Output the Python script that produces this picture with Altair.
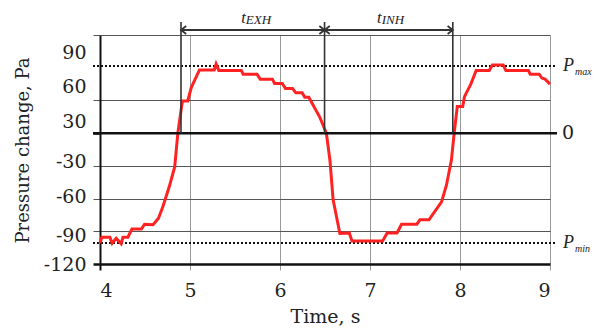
import altair as alt
import pandas as pd

# ---- data ----
t = [4.00, 4.02, 4.11, 4.135, 4.18, 4.235, 4.255, 4.31, 4.355, 4.46, 4.495, 4.59,
     4.65, 4.70, 4.77, 4.83, 4.865, 4.915, 4.975, 5.015, 5.105, 5.27, 5.29, 5.32,
     5.57, 5.59, 5.745, 5.78, 5.915, 5.94, 6.025, 6.06, 6.14, 6.175, 6.245, 6.275,
     6.32, 6.44, 6.515, 6.555, 6.59, 6.665, 6.77, 6.80, 7.14, 7.19, 7.30, 7.35,
     7.52, 7.555, 7.655, 7.795, 7.85, 7.905, 7.935, 7.97, 8.03, 8.05, 8.12, 8.18,
     8.325, 8.36, 8.48, 8.51, 8.76, 8.78, 8.88, 8.91, 8.945, 9.00]
p = [-101, -95.5, -95.5, -101, -96.5, -101.5, -95.5, -95.5, -88, -88, -83.5, -84,
     -78, -67, -49, -31, 0, 29.5, 29.5, 42, 58, 58, 63.5, 57.5,
     57.5, 54, 54, 49.5, 49.5, 45.5, 45.5, 41, 41, 37, 37, 33,
     33, 15, 0, -25, -61, -92, -91.5, -99, -99, -91.5, -91.5, -83.5,
     -83.5, -79.5, -79.5, -63, -47.5, -24.5, 0, 24.5, 24.5, 33.5, 45, 57.5,
     57.5, 62.5, 62.5, 57.5, 57.5, 54, 54, 50.5, 49.5, 45]

x_ticks = [4, 5, 6, 7, 8, 9]
y_grid = [-120, -90, -60, -30, 0, 30, 90]
y_label_text = ["90", "60", "30", "-30", "-60", "-90", "-120"]
y_label_at = [74.2, 43.0, 11.0, -25.7, -57.8, -93.6, -120]

p_levels = [61.6, -100.7]
p_subs = ["max", "min"]

t_marks = [4.90, 6.495, 7.92]
phase_names = ["EXH", "INH"]

FONT = "DejaVu Serif"
IFONT = "Liberation Serif"
INK = "#222222"
BLACK = "#111111"

curve = pd.DataFrame({"t": t, "p": p})
marks = pd.DataFrame({"t": t_marks, "p": [0] * len(t_marks)})
phases = pd.DataFrame({"t": t_marks[:-1], "end": t_marks[1:], "name": phase_names})
levels = pd.DataFrame({"p": p_levels, "sub": p_subs})
zero = pd.DataFrame({"p": [0], "lab": ["0"]})

xs = alt.Scale(domain=[4, 9], nice=False, zero=False)
ys = alt.Scale(domain=[-120, 90], nice=False, zero=False)

all_y = sorted(set(y_grid + y_label_at))
lab_expr = ("indexof(%s, datum.value) >= 0 ? %s[indexof(%s, datum.value)] : ''"
            % (y_label_at, [str(s) for s in y_label_text], y_label_at)).replace('"', "'")
grid_only = [v for v in y_grid if v not in (0, -120)]

y_axis = alt.Axis(
    values=all_y, labelExpr=lab_expr,
    tickSize=7,
    tickOpacity={"condition": {"test": "indexof(%s, datum.value) >= 0" % y_grid, "value": 1}, "value": 0},
    tickColor={"condition": {"test": "datum.value == 0 || datum.value == -120", "value": BLACK}, "value": "#555555"},
    tickWidth={"condition": {"test": "datum.value == 0 || datum.value == -120", "value": 2.5}, "value": 1},
    grid=True, gridColor="#555555", gridWidth=1,
    gridOpacity={"condition": {"test": "indexof(%s, datum.value) >= 0" % grid_only, "value": 1}, "value": 0},
    domainColor=BLACK, domainWidth=2,
    labelFont=FONT, labelFontSize=19, labelColor=INK, labelPadding=7,
    title="Pressure change, Pa", titleFont=FONT, titleFontSize=18, titleFontWeight="normal",
    titleColor=INK, titleAngle=270, titleBaseline="alphabetic", titleAlign="center",
    titleX=-72, titleY=115,
)
x_axis = alt.Axis(
    values=x_ticks, format="d",
    tickSize=6,
    tickColor={"condition": {"test": "datum.value == 4", "value": BLACK}, "value": "#999999"},
    tickWidth={"condition": {"test": "datum.value == 4", "value": 2}, "value": 1},
    grid=True, gridColor="#999999", gridWidth=1,
    gridOpacity={"condition": {"test": "datum.value > 4", "value": 1}, "value": 0},
    domainColor=BLACK, domainWidth=2.5,
    labelFont=FONT, labelFontSize=19, labelColor=INK, labelPadding=11,
    title="Time, s", titleFont=FONT, titleFontSize=19, titleFontWeight="normal",
    titleColor=INK, titleBaseline="alphabetic", titleY=58,
)


def X(field="t"):
    return alt.X(field + ":Q", scale=xs, axis=x_axis, title="Time, s")


def Y(field="p"):
    return alt.Y(field + ":Q", scale=ys, axis=y_axis, title="Pressure change, Pa")


line = alt.Chart(curve).mark_line(color="#ff2222", strokeWidth=3).encode(x=X(), y=Y())

zero_rule = alt.Chart(zero).mark_rule(color=BLACK, strokeWidth=2.5).encode(
    y=Y(), x=alt.value(-7), x2=alt.value(457))
zero_text = alt.Chart(zero).mark_text(align="left", baseline="middle", font=FONT,
                                      fontSize=19, color=INK).encode(
    y=Y(), x=alt.value(462), text="lab:N")

lvl_rule = alt.Chart(levels).mark_rule(color=BLACK, strokeWidth=2, strokeDash=[2, 2]).encode(
    y=Y(), x=alt.value(-7), x2=alt.value(455))
lvl_p = alt.Chart(levels).mark_text(text="P", align="left", baseline="middle", font=IFONT,
                                    fontStyle="italic", fontSize=18, color=INK).encode(
    y=Y(), x=alt.value(463))
lvl_sub = alt.Chart(levels).mark_text(align="left", baseline="middle", font=IFONT, dy=6,
                                      fontStyle="italic", fontSize=10, color=INK).encode(
    y=Y(), x=alt.value(475), text="sub:N")

mark_rules = alt.Chart(marks).mark_rule(color="#333333", strokeWidth=1.6).encode(
    x=X(), y=Y(), y2=alt.value(-13))

arrow = alt.Chart(phases).mark_rule(color="#333333", strokeWidth=1.8).encode(
    x=X(), x2="end:Q", y=alt.value(-5))
head_l = alt.Chart(phases).mark_point(shape="M1.3,-1L0,0L1.3,1", filled=False, size=64,
                                      strokeWidth=1.8, color="#333333", opacity=1).encode(
    x=X(), y=alt.value(-5))
head_r = alt.Chart(phases).mark_point(shape="M-1.3,-1L0,0L-1.3,1", filled=False, size=64,
                                      strokeWidth=1.8, color="#333333", opacity=1).encode(
    x=X("end"), y=alt.value(-5))

t_main = alt.Chart(phases).transform_calculate(mid="(datum.t + datum.end) / 2").mark_text(
    text="t", align="right", baseline="alphabetic", dx=-7, font=IFONT, fontStyle="italic",
    fontSize=16.5, color=INK).encode(x=X("mid"), y=alt.value(-12))
t_sub = alt.Chart(phases).transform_calculate(mid="(datum.t + datum.end) / 2").mark_text(
    align="left", baseline="alphabetic", dx=-7, font=IFONT, fontStyle="italic",
    fontSize=13, color=INK).encode(x=X("mid"), y=alt.value(-11), text="name:N")

chart = alt.layer(
    lvl_rule, line, zero_rule, zero_text, lvl_p, lvl_sub,
    mark_rules, arrow, head_l, head_r, t_main, t_sub,
).properties(
    width=450, height=229,
    padding={"left": 92, "top": 27, "right": 43, "bottom": 62},
    autosize=alt.AutoSizeParams(type="none"),
    background="white",
).configure_view(strokeWidth=0)

chart.save("out.html", embed_options={"renderer": "svg", "actions": False})
